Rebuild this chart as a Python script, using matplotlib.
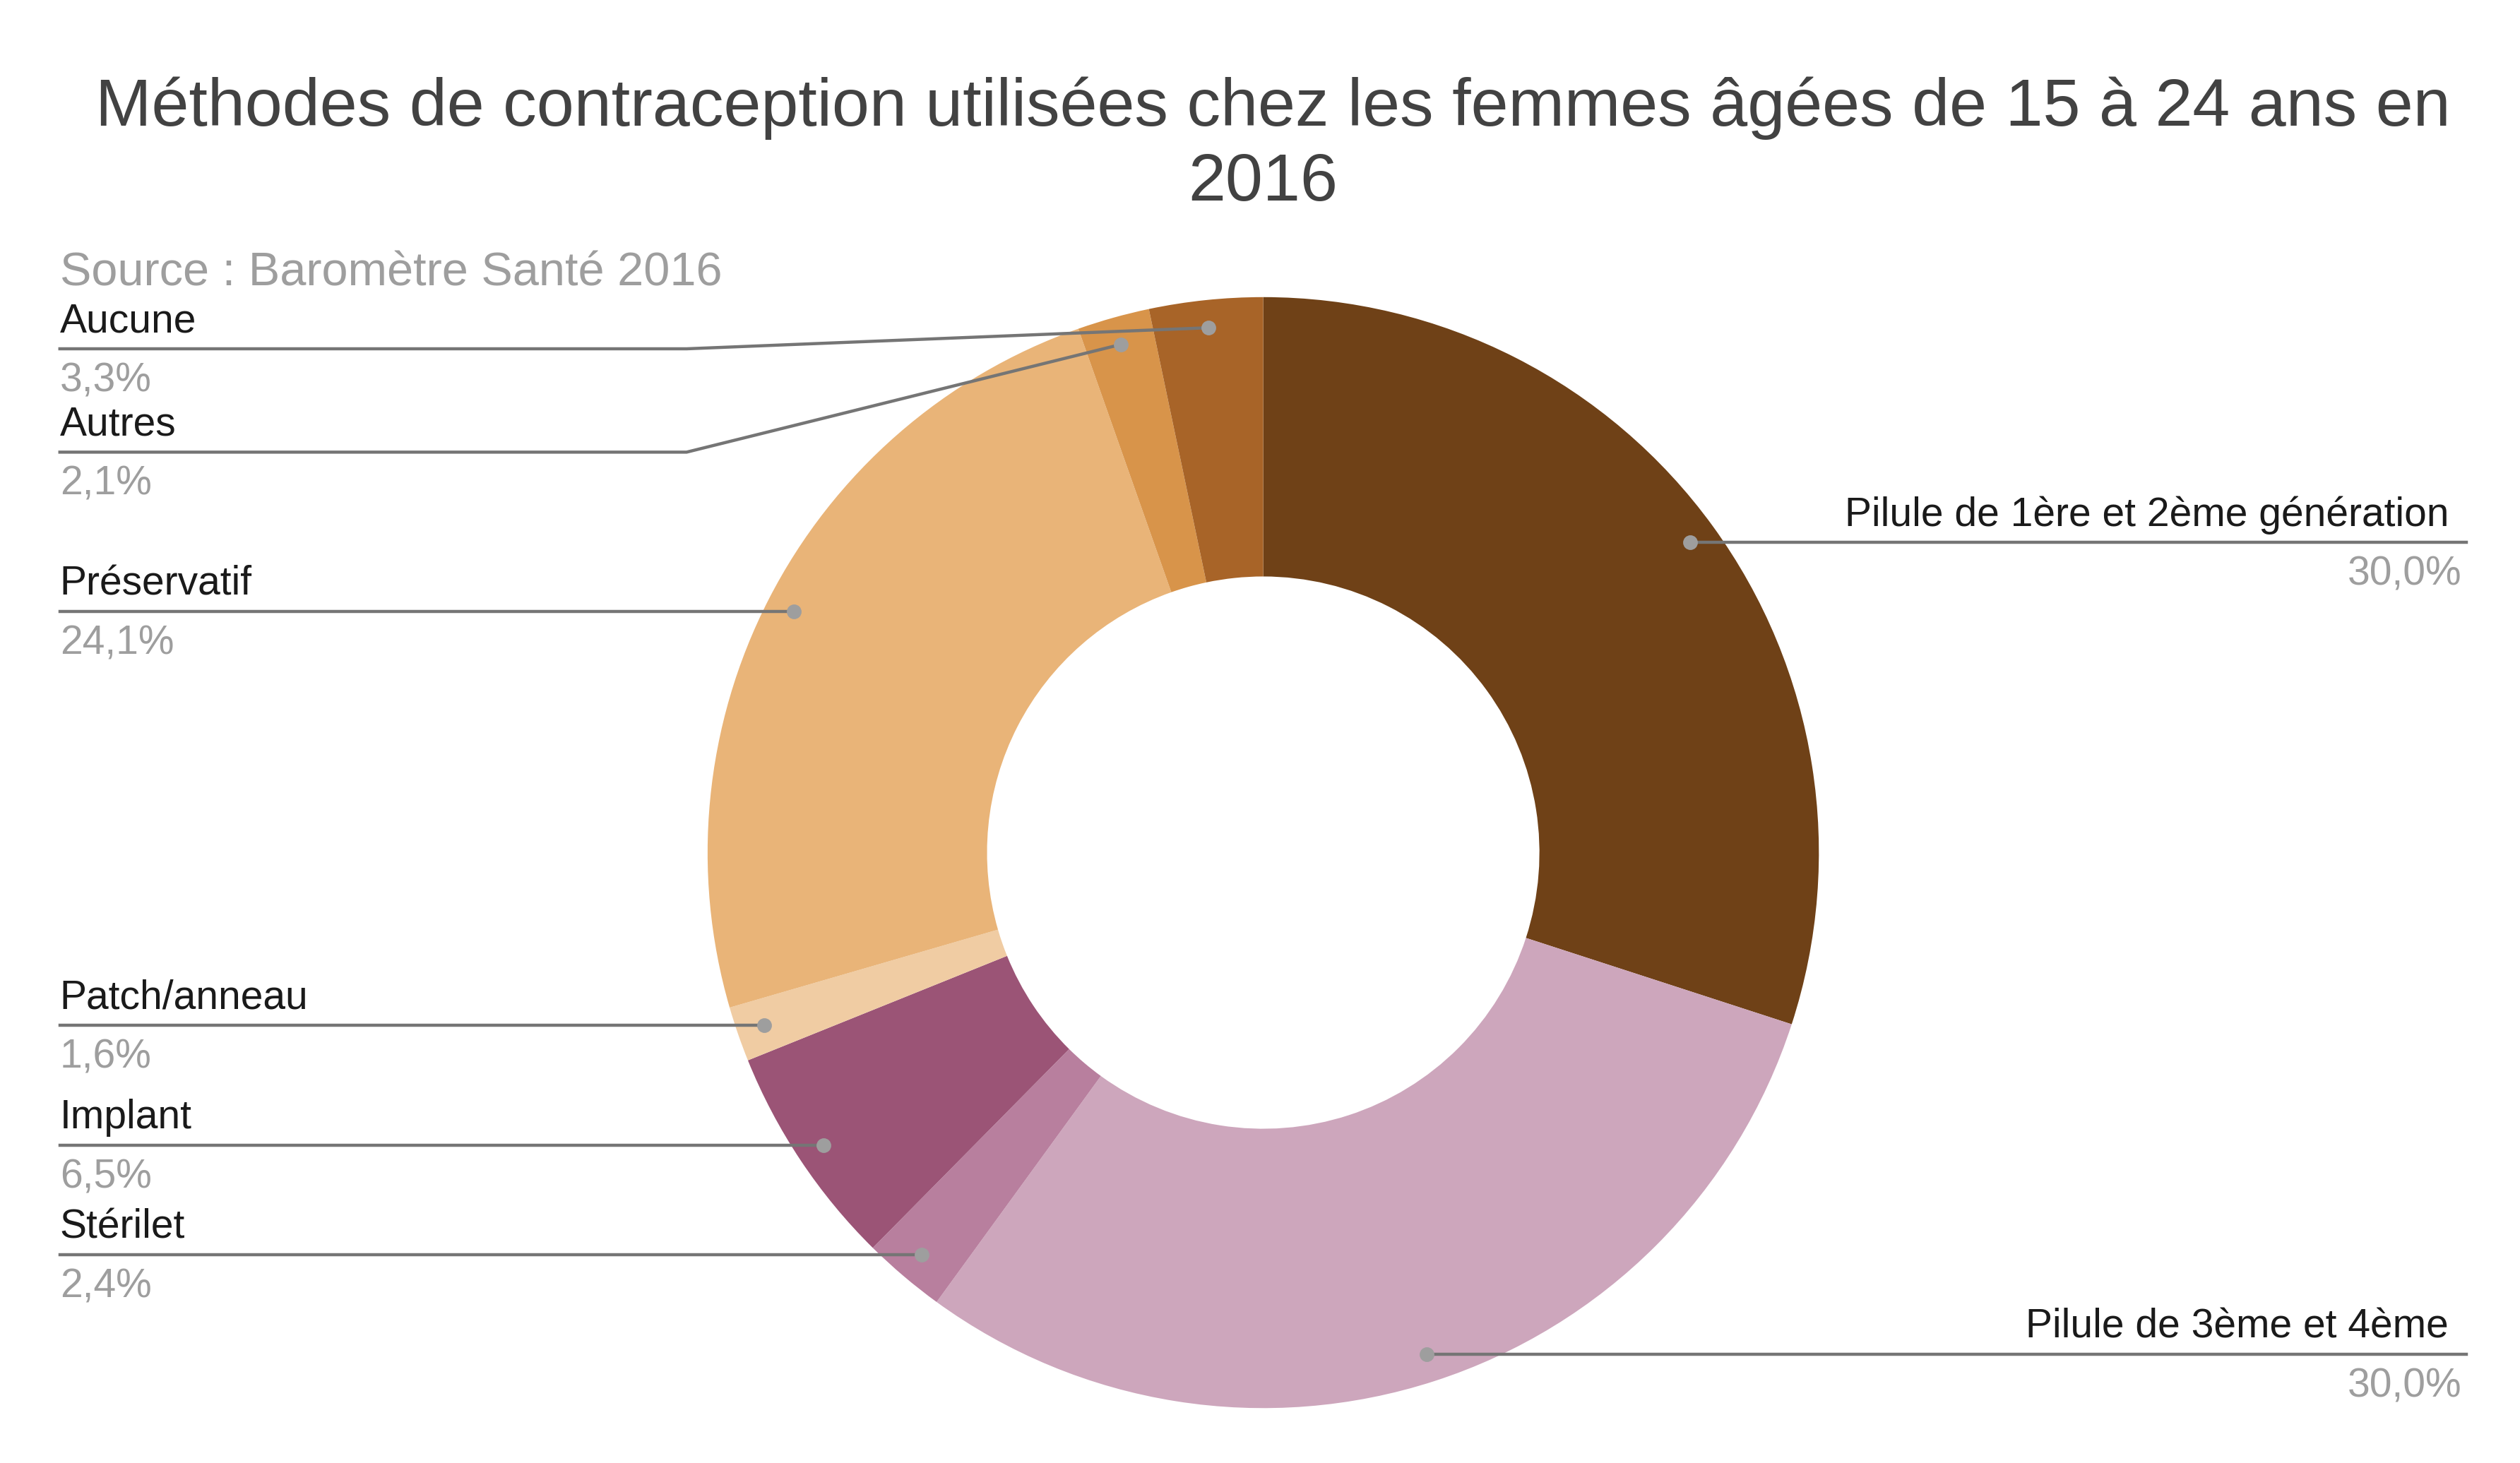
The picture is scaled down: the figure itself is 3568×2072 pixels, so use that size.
import matplotlib.pyplot as plt
import numpy as np

plt.rcParams['font.family'] = ['Liberation Sans', 'DejaVu Sans']

# data
methods = ["Pilule de 1ère et 2ème génération", "Pilule de 3ème et 4ème",
           "Stérilet", "Implant", "Patch/anneau", "Préservatif", "Autres", "Aucune"]
shares = [30.0, 30.0, 2.4, 6.5, 1.6, 24.1, 2.1, 3.3]
share_labels = ["30,0%", "30,0%", "2,4%", "6,5%", "1,6%", "24,1%", "2,1%", "3,3%"]
colors = ["#6f4117", "#cda6bc", "#b87f9e", "#9b5476", "#f0cca3", "#e9b478", "#d8944a", "#a86428"]

W, H = 1560, 906
cx, cy = 782, H - 528
R = 344

fig = plt.figure(figsize=(17.84, 10.36), dpi=200)
ax = fig.add_axes([0, 0, 1, 1])

ax.pie(shares, colors=colors, startangle=90, counterclock=False,
       radius=R, center=(cx, cy), frame=True,
       wedgeprops=dict(width=R - 171, edgecolor='none'))
ax.set_xlim(0, W)
ax.set_ylim(0, H)
ax.set_aspect('equal')
ax.axis('off')

# label lines pushed off the dot height (from top), others stay level
line_y = {"Autres": 280, "Aucune": 216}

cum = np.cumsum([0] + shares[:-1])
line_col = "#757575"
for name, v, c0, pct in zip(methods, shares, cum, share_labels):
    ang = np.deg2rad(90 - 3.6 * (c0 + v / 2))
    dx = cx + 0.95 * R * np.cos(ang)
    dy = cy + 0.95 * R * np.sin(ang)
    ly = H - line_y[name] if name in line_y else dy
    if dx > cx:
        ax.plot([dx, 1527], [ly, ly], color=line_col, lw=1.6, zorder=3)
        ax.text(1516, ly + 5, name, ha='right', va='bottom', fontsize=20.5, color="#1a1a1a")
        ax.text(1524, ly - 8, pct, ha='right', va='top', fontsize=20.5, color="#9e9e9e")
    else:
        if name in line_y:
            ax.plot([37, 425, dx], [ly, ly, dy], color=line_col, lw=1.6, zorder=3)
        else:
            ax.plot([37, dx], [ly, ly], color=line_col, lw=1.6, zorder=3)
        ax.text(37, ly + 5, name, ha='left', va='bottom', fontsize=20.5, color="#1a1a1a")
        ax.text(37, ly - 8, pct, ha='left', va='top', fontsize=20.5, color="#9e9e9e")
    ax.plot(dx, dy, 'o', ms=6.5, color="#9e9e9e", zorder=4)

ax.text(788, H - 78, "Méthodes de contraception utilisées chez les femmes âgées de 15 à 24 ans en",
        ha='center', va='baseline', fontsize=34.3, color="#424242")
ax.text(782, H - 124, "2016", ha='center', va='baseline', fontsize=34.3, color="#424242")
ax.text(37, H - 177, "Source : Baromètre Santé 2016", ha='left', va='baseline',
        fontsize=24, color="#9e9e9e")

fig.savefig("out.png", dpi=200)
